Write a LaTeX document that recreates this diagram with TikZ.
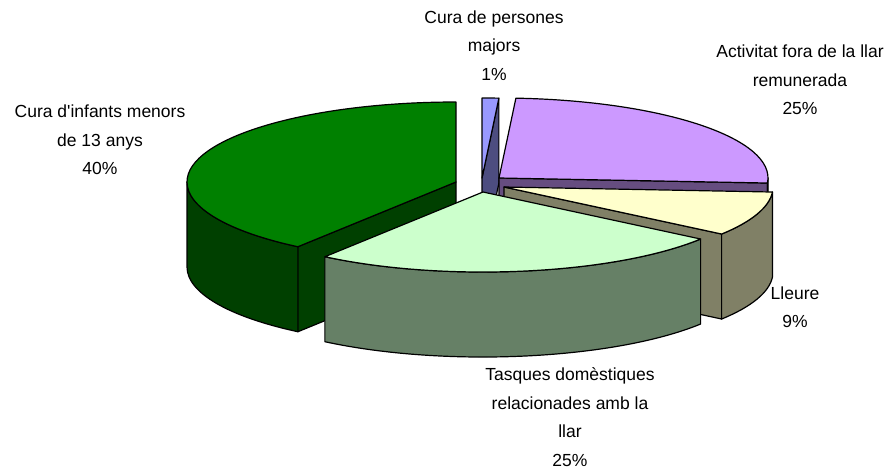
\documentclass[tikz,border=0pt]{standalone}
\usepackage{fontspec}
\setmainfont{Liberation Sans}[Ligatures=TeXOff]
\usetikzlibrary{calc}
\definecolor{gTop}{RGB}{0,128,0}
\definecolor{gSide}{RGB}{0,64,0}
\definecolor{tTop}{RGB}{204,255,204}
\definecolor{tSide}{RGB}{102,128,102}
\definecolor{yTop}{RGB}{255,255,204}
\definecolor{ySide}{RGB}{128,128,102}
\definecolor{pTop}{RGB}{204,153,255}
\definecolor{pSide}{RGB}{102,77,128}
\definecolor{bTop}{RGB}{153,153,255}
\definecolor{bSide}{RGB}{77,77,128}
\begin{document}
\begin{tikzpicture}[x=1pt,y=1pt,
  face/.style={draw=black,line width=1.2pt,line join=round},
  lbl/.style={align=center,font=\fontsize{17.5}{28.5}\selectfont,inner sep=0pt},
  ell/.style={x radius=269pt,y radius=80pt}]
\useasboundingbox (0,0) rectangle (890,-469);
\def\h{85}
\coordinate (B) at (482,-178);
\coordinate (P) at (499,-178);
\coordinate (G) at (456,-182);
\coordinate (Y) at (504,-187);
\coordinate (T) at (483,-192);
% blue slice (1%)
\filldraw[face,fill=bSide] (B) -- ++(86.4:269pt and 80pt) -- ++(0,-\h) -- ($(B)+(0,-\h)$) -- cycle;
\filldraw[face,fill=bTop] (B) -- ++(86.4:269pt and 80pt) arc[ell,start angle=86.4,end angle=90] -- cycle;
% purple slice (25%)
\filldraw[face,fill=pSide] (P) -- ++(-3.6:269pt and 80pt) -- ++(0,-\h) -- ($(P)+(0,-\h)$) -- cycle;
\filldraw[face,fill=pSide] ($(P)+(-3.6:269pt and 80pt)$) arc[ell,start angle=-3.6,end angle=0] -- ++(0,-\h) arc[ell,start angle=0,end angle=-3.6] -- cycle;
\filldraw[face,fill=pTop] (P) -- ++(-3.6:269pt and 80pt) arc[ell,start angle=-3.6,end angle=86.4] -- cycle;
% green slice (40%)
\filldraw[face,fill=gSide] (G) -- ++(234:269pt and 80pt) -- ++(0,-\h) -- ($(G)+(0,-\h)$) -- cycle;
\filldraw[face,fill=gSide] ($(G)+(180:269pt and 80pt)$) arc[ell,start angle=180,end angle=234] -- ++(0,-\h) arc[ell,start angle=234,end angle=180] -- cycle;
\filldraw[face,fill=gTop] (G) -- ++(90:269pt and 80pt) arc[ell,start angle=90,end angle=234] -- cycle;
% yellow slice (9%)
\filldraw[face,fill=ySide] (Y) -- ++(324:269pt and 80pt) -- ++(0,-\h) -- ($(Y)+(0,-\h)$) -- cycle;
\filldraw[face,fill=ySide] ($(Y)+(324:269pt and 80pt)$) arc[ell,start angle=324,end angle=356.4] -- ++(0,-\h) arc[ell,start angle=356.4,end angle=324] -- cycle;
\filldraw[face,fill=yTop] (Y) -- ++(324:269pt and 80pt) arc[ell,start angle=324,end angle=356.4] -- cycle;
% light green slice (25%)
\filldraw[face,fill=tSide] ($(T)+(234:269pt and 80pt)$) arc[ell,start angle=234,end angle=324] -- ++(0,-\h) arc[ell,start angle=324,end angle=234] -- cycle;
\filldraw[face,fill=tTop] (T) -- ++(234:269pt and 80pt) arc[ell,start angle=234,end angle=324] -- cycle;
% labels
\node[lbl] (lb) at (494,-45.5) {Cura de persones\\majors\\1\%};
\node[lbl] (lp) at (800,-80) {Activitat fora de la llar\\remunerada\\25\%};
\node[lbl] (lg) at (100,-140) {Cura d'infants menors\\de 13 anys\\40\%};
\node[lbl] (lt) at (570,-417) {Tasques domèstiques\\relacionades amb la\\llar\\25\%};
\node[lbl] (ly) at (795,-307) {Lleure\\9\%};
\end{tikzpicture}
\end{document}
